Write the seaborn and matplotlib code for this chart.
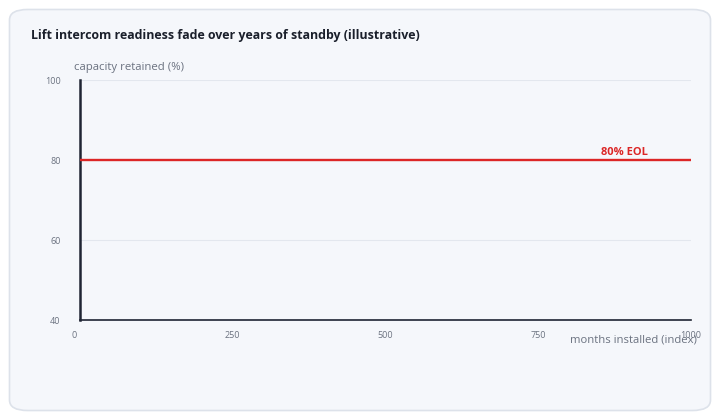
import pandas as pd
import matplotlib
matplotlib.use("Agg")
import matplotlib.pyplot as plt
import matplotlib.transforms as mtransforms
from matplotlib.patches import FancyBboxPatch
import seaborn as sns

# chart data
x_ticks = [0, 250, 500, 750, 1000]
y_ticks = [40, 60, 80, 100]
eol_months = [0, 1000]
eol_level = [80, 80]
eol_label = "80% EOL"

title = "Lift intercom readiness fade over years of standby (illustrative)"
x_label = "months installed (index)"
y_label = "capacity retained (%)"

card_bg = "#f5f7fb"
grid_col = "#e3e7ee"
axis_col = "#1f2433"
muted = "#6b7280"
red = "#dc2626"

sns.set_theme(style="white")
plt.rcParams["font.family"] = ["Open Sans", "DejaVu Sans"]

fig = plt.figure(figsize=(7.2, 4.2), dpi=100)
fig.patch.set_facecolor("white")

# rounded card behind everything
card = FancyBboxPatch((9.5 / 720, 9.5 / 420), 701 / 720, 401 / 420,
                      boxstyle="round,pad=0,rounding_size=0.025",
                      transform=fig.transFigure, facecolor=card_bg,
                      edgecolor="#dde2ea", linewidth=1.2, zorder=-10)
fig.patches.append(card)

ax = fig.add_axes([80 / 720, 1 - 320 / 420, 611 / 720, 240 / 420])
ax.set_facecolor(card_bg)

df = pd.DataFrame({"months": eol_months, "capacity": eol_level})
sns.lineplot(data=df, x="months", y="capacity", color=red, linewidth=1.7, ax=ax, zorder=3)

ax.set_xlim(0, 1000)
ax.set_ylim(40, 100)
ax.set_xticks(x_ticks)
ax.set_yticks(y_ticks)
ax.set_xticklabels([str(v) for v in x_ticks])
ax.set_yticklabels([str(v) for v in y_ticks])
ax.tick_params(axis="both", length=0, labelsize=6.5, labelcolor=muted)
ax.tick_params(axis="y", pad=14)
ax.tick_params(axis="x", pad=8)

# the first x label sits a little left of the axis origin in the reference
first = ax.get_xticklabels()[0]
first.set_transform(first.get_transform() + mtransforms.ScaledTranslation(-6 / 100, 0, fig.dpi_scale_trans))

ax.yaxis.grid(True, color=grid_col, linewidth=0.8)
ax.xaxis.grid(False)
ax.set_axisbelow(True)

for side in ["top", "right"]:
    ax.spines[side].set_visible(False)
ax.spines["left"].set_color(axis_col)
ax.spines["left"].set_linewidth(1.8)
ax.spines["bottom"].set_color(axis_col)
ax.spines["bottom"].set_linewidth(1.2)

ax.set_xlabel("")
ax.set_ylabel("")
fig.text(74 / 720, 1 - 67.5 / 420, y_label, fontsize=8.2, color=muted, ha="left", va="center")
fig.text(697 / 720, 1 - 340 / 420, x_label, fontsize=8.1, color=muted, ha="right", va="center")

ax.text(930, eol_level[0] + 0.6, eol_label, color=red, fontsize=8, fontweight="bold",
        ha="right", va="bottom")

fig.text(31 / 720, 1 - 36 / 420, title, fontsize=8.9, fontweight="bold",
         color="#1a1f2b", ha="left", va="center")

fig.savefig("out.png", dpi=100, facecolor="white")
